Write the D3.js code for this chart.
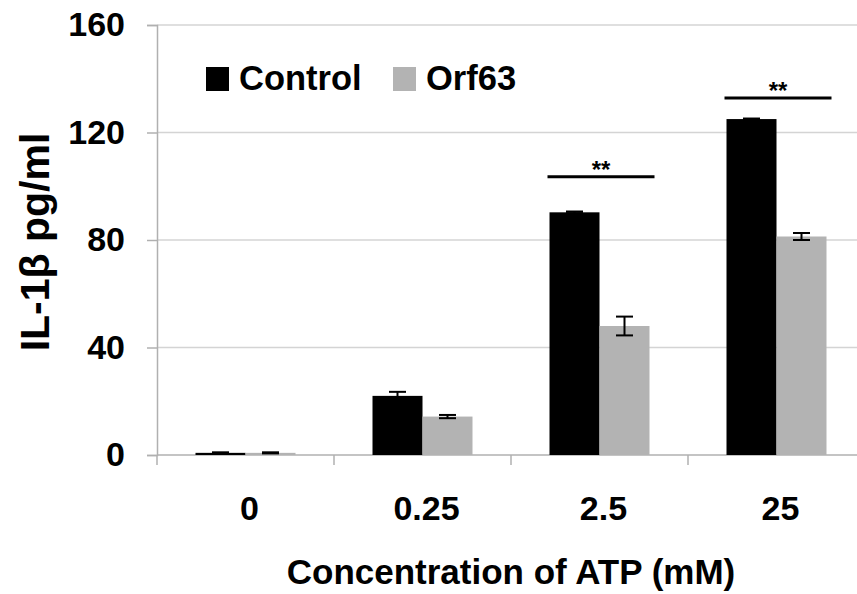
<!DOCTYPE html>
<html>
<head>
<meta charset="utf-8">
<script src="https://cdn.jsdelivr.net/npm/d3@7"></script>
<style>
  body { margin: 0; background: #fff; }
  text { font-family: "Liberation Sans", Arial, sans-serif; font-weight: bold; fill: #000; }
</style>
</head>
<body>
<svg id="chart" width="857" height="594"></svg>
<script>
// data
const categories = ['0', '0.25', '2.5', '25'];
const seriesNames = ['Control', 'Orf63'];
const controlVals = [0.8, 22, 90.3, 125];
const controlErr = [0.2, 1.5, 0.3, 0.2];
const orfVals = [0.8, 14.3, 48, 81.3];
const orfErr = [0.2, 0.6, 3.5, 1.3];
const yTicks = [0, 40, 80, 120, 160];
const sigCats = ['2.5', '25'];
const sigLevel = [103.5, 132.8];
const sigLabel = ['**', '**'];

const colors = {Control: '#000000', Orf63: '#b3b3b3'};

const svg = d3.select('#chart');
const plotL = 157, plotR = 865, plotT = 25, plotB = 455;

const x = d3.scaleBand().domain(categories).range([plotL, plotR]).paddingInner(0).paddingOuter(0);
const x1 = d3.scaleBand().domain(seriesNames).range([0, x.bandwidth()]).paddingInner(0).paddingOuter(0.77);
const y = d3.scaleLinear().domain([0, 160]).range([plotB, plotT]);

// grid
svg.append('g').selectAll('line').data(yTicks.filter(d => d > 0)).enter().append('line')
  .attr('x1', plotL).attr('x2', 857)
  .attr('y1', d => y(d)).attr('y2', d => y(d))
  .attr('stroke', '#d4d4d4').attr('stroke-width', 1.5);

// y axis
const yAxis = svg.append('g').attr('transform', 'translate(' + plotL + ',0)')
  .call(d3.axisLeft(y).tickValues(yTicks).tickSize(10).tickPadding(22));
yAxis.select('.domain').attr('stroke', '#b0b0b0').attr('stroke-width', 1.5);
yAxis.selectAll('.tick line').attr('stroke', '#b0b0b0').attr('stroke-width', 1.5);
yAxis.selectAll('.tick text').style('font-size', '34px').style('font-family', '"Liberation Sans", Arial, sans-serif').style('font-weight', 'bold').attr('fill', '#000');

// x axis baseline + boundary ticks
svg.append('line').attr('x1', plotL).attr('x2', 857).attr('y1', plotB).attr('y2', plotB)
  .attr('stroke', '#b0b0b0').attr('stroke-width', 1.5);
const bounds = categories.map(c => x(c)).concat([x(categories[categories.length - 1]) + x.bandwidth()]);
svg.append('g').selectAll('line').data(bounds).enter().append('line')
  .attr('x1', d => d).attr('x2', d => d).attr('y1', plotB).attr('y2', plotB + 10)
  .attr('stroke', '#b0b0b0').attr('stroke-width', 1.5);

// x tick labels
svg.append('g').selectAll('text').data(categories).enter().append('text')
  .attr('x', d => x(d) + x.bandwidth() / 2 + 4).attr('y', 520)
  .attr('text-anchor', 'middle').style('font-size', '34px')
  .text(d => d);

// bars
const rows = categories.map((c, i) => ({
  cat: c,
  vals: [
    {key: 'Control', v: controlVals[i], e: controlErr[i]},
    {key: 'Orf63', v: orfVals[i], e: orfErr[i]}
  ]
}));

const grp = svg.append('g').selectAll('g').data(rows).enter().append('g')
  .attr('transform', d => 'translate(' + x(d.cat) + ',0)');

grp.selectAll('rect').data(d => d.vals).enter().append('rect')
  .attr('x', d => x1(d.key)).attr('width', x1.bandwidth())
  .attr('y', d => y(d.v)).attr('height', d => y(0) - y(d.v))
  .attr('fill', d => colors[d.key]);

// error bars
const cap = 8.5;
const eb = grp.selectAll('g.err').data(d => d.vals).enter().append('g').attr('class', 'err');
eb.append('line')
  .attr('x1', d => x1(d.key) + x1.bandwidth() / 2).attr('x2', d => x1(d.key) + x1.bandwidth() / 2)
  .attr('y1', d => y(d.v + d.e)).attr('y2', d => y(d.v - d.e))
  .attr('stroke', '#000').attr('stroke-width', 2);
eb.selectAll('line.cap').data(d => [{d: d, v: d.v + d.e}, {d: d, v: d.v - d.e}]).enter().append('line')
  .attr('class', 'cap')
  .attr('x1', c => x1(c.d.key) + x1.bandwidth() / 2 - cap).attr('x2', c => x1(c.d.key) + x1.bandwidth() / 2 + cap)
  .attr('y1', c => y(c.v)).attr('y2', c => y(c.v))
  .attr('stroke', '#000').attr('stroke-width', 2);

// significance
sigCats.forEach((c, i) => {
  const x0 = x(c) + x1('Control') - 2;
  const xe = x(c) + x1('Orf63') + x1.bandwidth() + 5;
  svg.append('line').attr('x1', x0).attr('x2', xe)
    .attr('y1', y(sigLevel[i])).attr('y2', y(sigLevel[i]))
    .attr('stroke', '#000').attr('stroke-width', 3);
  svg.append('text').attr('x', (x0 + xe) / 2).attr('y', y(sigLevel[i]) + 1)
    .attr('text-anchor', 'middle').style('font-size', '24px').text(sigLabel[i]);
});

// legend
const legX = [206, 393];
seriesNames.forEach((s, i) => {
  svg.append('rect').attr('x', legX[i]).attr('y', 67).attr('width', 23).attr('height', 24)
    .attr('fill', colors[s]);
  svg.append('text').attr('x', legX[i] + 33).attr('y', 90).style('font-size', '34.5px').text(s);
});

// axis titles
svg.append('text').attr('transform', 'translate(49,242) rotate(-90)')
  .attr('text-anchor', 'middle').style('font-size', '41px').text('IL-1β pg/ml');
svg.append('text').attr('x', 511).attr('y', 584)
  .attr('text-anchor', 'middle').style('font-size', '35px').text('Concentration of ATP (mM)');
</script>
</body>
</html>
